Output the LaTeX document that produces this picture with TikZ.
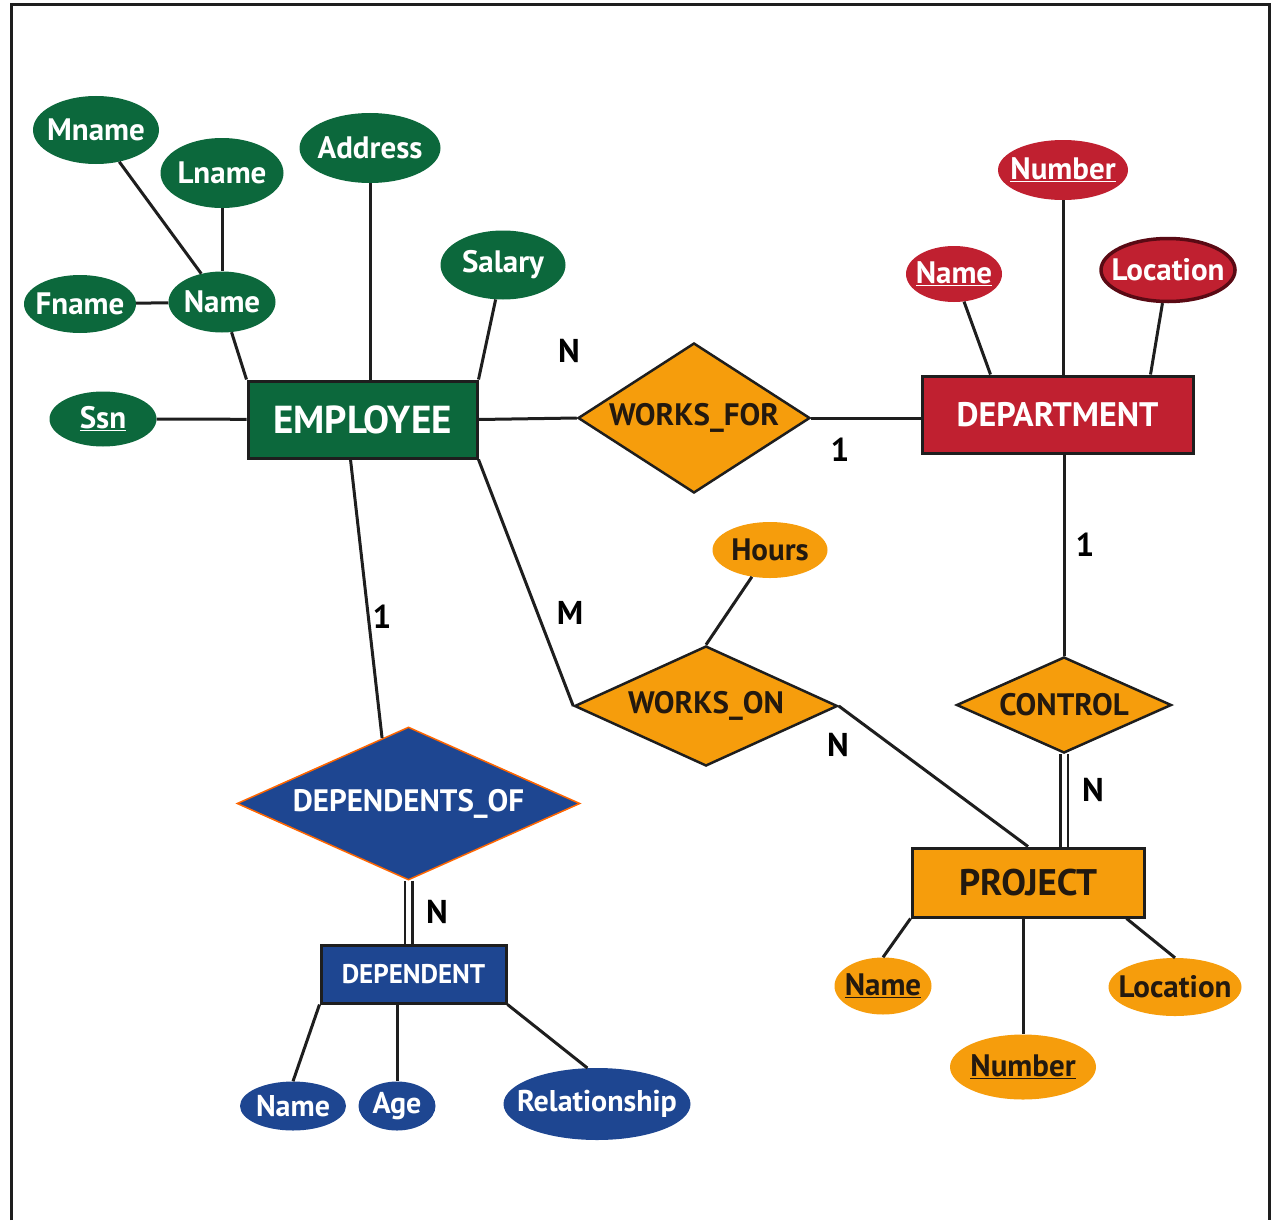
\documentclass[tikz,border=0pt]{standalone}
\usepackage{fontspec}
\setmainfont{PT Sans}
\usetikzlibrary{shapes.geometric}

\definecolor{ergreen}{RGB}{12,104,60}
\definecolor{erred}{RGB}{192,32,48}
\definecolor{erdarkred}{RGB}{90,10,20}
\definecolor{erorange}{RGB}{246,157,12}
\definecolor{erblue}{RGB}{30,70,145}
\definecolor{erline}{RGB}{30,30,30}
\definecolor{erink}{RGB}{35,25,15}

\tikzset{
  entity/.style={rectangle, draw=erline, line width=3pt, inner sep=0pt},
  attr/.style={ellipse, inner xsep=-16pt, inner ysep=0pt, font=\fontsize{31}{34}\selectfont\bfseries},
  rel/.style={diamond, draw=erline, line width=2.5pt, inner sep=0pt, text=erink,
    font=\fontsize{31}{34}\selectfont\bfseries},
  link/.style={draw=erline, line width=3pt},
  twolink/.style={draw=erline, line width=2.5pt, double=white, double distance=5pt},
  card/.style={text=black, font=\fontsize{33}{36}\selectfont\bfseries},
  green attr/.style={attr, fill=ergreen, text=white},
  red attr/.style={attr, fill=erred, text=white},
  orange attr/.style={attr, fill=erorange, text=erink},
  blue attr/.style={attr, fill=erblue, text=white, font=\fontsize{30}{33}\selectfont\bfseries}
}

\begin{document}
\begin{tikzpicture}[x=1pt,y=-1pt]
\useasboundingbox (0,0) rectangle (1281,1220);
\draw[erline, line width=3pt] (11,1220) -- (11,5) -- (1269,5) -- (1269,1220);

\node[entity, fill=ergreen, text=white, minimum width=229pt, minimum height=77pt,
  font=\fontsize{39}{42}\selectfont\bfseries] (emp) at (362.5,419.5) {EMPLOYEE};
\node[green attr, minimum width=126pt, minimum height=68pt] (mname) at (96,130) {Mname};
\node[green attr, minimum width=123pt, minimum height=70pt] (lname) at (222,173) {Lname};
\node[green attr, minimum width=141pt, minimum height=70pt] (addr) at (370,148) {Address};
\node[green attr, minimum width=125pt, minimum height=69pt] (salary) at (503,265) {Salary};
\node[green attr, minimum width=112pt, minimum height=58pt] (fname) at (80,304) {Fname};
\node[green attr, minimum width=107pt, minimum height=61pt] (ename) at (222,302) {Name};
\node[green attr, minimum width=107pt, minimum height=55pt] (ssn) at (103,419) {\underline{Ssn}};

\node[entity, fill=erred, text=white, minimum width=271pt, minimum height=77pt,
  font=\fontsize{34}{37}\selectfont\bfseries] (dept) at (1057.5,414.5) {DEPARTMENT};
\node[red attr, minimum width=130pt, minimum height=60pt] (dnum) at (1063,170) {\underline{Number}};
\node[red attr, minimum width=96pt, minimum height=56pt] (dname) at (954,274) {\underline{Name}};
\node[red attr, draw=erdarkred, line width=3.5pt, minimum width=134pt, minimum height=63pt] (dloc) at (1168,270) {Location};

\node[rel, fill=erorange, aspect=1.55, minimum width=232pt, minimum height=150pt] (wf) at (694,418) {WORKS\_FOR};
\node[rel, fill=erorange, aspect=2.2, minimum width=263pt, minimum height=120pt] (wo) at (706,706) {WORKS\_ON};
\node[orange attr, minimum width=115pt, minimum height=56pt] (hours) at (770,550) {Hours};
\node[rel, fill=erorange, aspect=2.2, minimum width=215pt, minimum height=96pt] (ctl) at (1064,705) {CONTROL};

\node[entity, fill=erorange, text=erink, minimum width=232pt, minimum height=69pt,
  font=\fontsize{37}{40}\selectfont\bfseries] (prj) at (1028,882.5) {PROJECT};
\node[orange attr, minimum width=97pt, minimum height=57pt] (pname) at (883,986) {\underline{Name}};
\node[orange attr, minimum width=146pt, minimum height=65pt] (pnum) at (1023,1067) {\underline{Number}};
\node[orange attr, minimum width=133pt, minimum height=58pt] (ploc) at (1175,987) {Location};

\node[rel, fill=erblue, draw=orange!80!red, line width=1.5pt, text=white, aspect=2.2,
  minimum width=343pt, minimum height=153pt] (dof) at (408.5,803.5) {DEPENDENTS\_OF};
\node[entity, fill=erblue, text=white, minimum width=185pt, minimum height=58pt,
  font=\fontsize{27}{30}\selectfont\bfseries] (dep) at (413.5,974) {DEPENDENT};
\node[blue attr, minimum width=106pt, minimum height=49pt] (dname2) at (293,1106) {Name};
\node[blue attr, minimum width=77pt, minimum height=49pt] (dage) at (397,1106) {Age};
\node[blue attr, minimum width=187pt, minimum height=72pt] (drel) at (597,1104) {Relationship};

\draw[link] (mname) -- (ename);
\draw[link] (lname) -- (ename);
\draw[link] (fname) -- (ename);
\draw[link] (ename) -- (emp.north west);
\draw[link] (addr.south) -- (addr.south |- emp.north);
\draw[link] (salary) -- (emp.north east);
\draw[link] (ssn) -- (emp);

\draw[link] (emp.east) -- (wf.west);
\draw[link] (wf.east) -- (wf.east -| dept.west);
\draw[link] (dname) -- ([xshift=-67pt]dept.north);
\draw[link] (dnum.south) -- (dnum.south |- dept.north);
\draw[link] (dloc) -- ([xshift=93pt]dept.north);

\draw[link] (ctl.north |- dept.south) -- (ctl.north);
\draw[twolink] (ctl.south) -- (ctl.south |- prj.north);

\draw[link] (emp.south east) -- (wo.west);
\draw[link] (hours) -- (wo.north);
\draw[link] (wo.east) -- (prj.north);

\draw[link] (pname.north) -- (prj.south west);
\draw[link] (pnum.north |- prj.south) -- (pnum.north);
\draw[link] ([xshift=-19pt]prj.south east) -- (ploc.north);

\draw[link] ([xshift=-12pt]emp.south) -- (dof.112);
\draw[twolink] (dof.south) -- (dof.south |- dep.north);
\draw[link] (dep.south west) -- (dname2.north);
\draw[link] (dage.north |- dep.south) -- (dage.north);
\draw[link] (dep.south east) -- (drel.105);

\node[card] (cwfe) at (569,351) {N};
\node[card] (cwfd) at (840,450) {1};
\node[card] (cwoe) at (570,613) {M};
\node[card] (cwop) at (838,745) {N};
\node[card] (cctd) at (1085,545) {1};
\node[card] (cctp) at (1093,790) {N};
\node[card] (cdoe) at (382,617) {1};
\node[card] (cdod) at (437,912) {N};
\end{tikzpicture}
\end{document}
